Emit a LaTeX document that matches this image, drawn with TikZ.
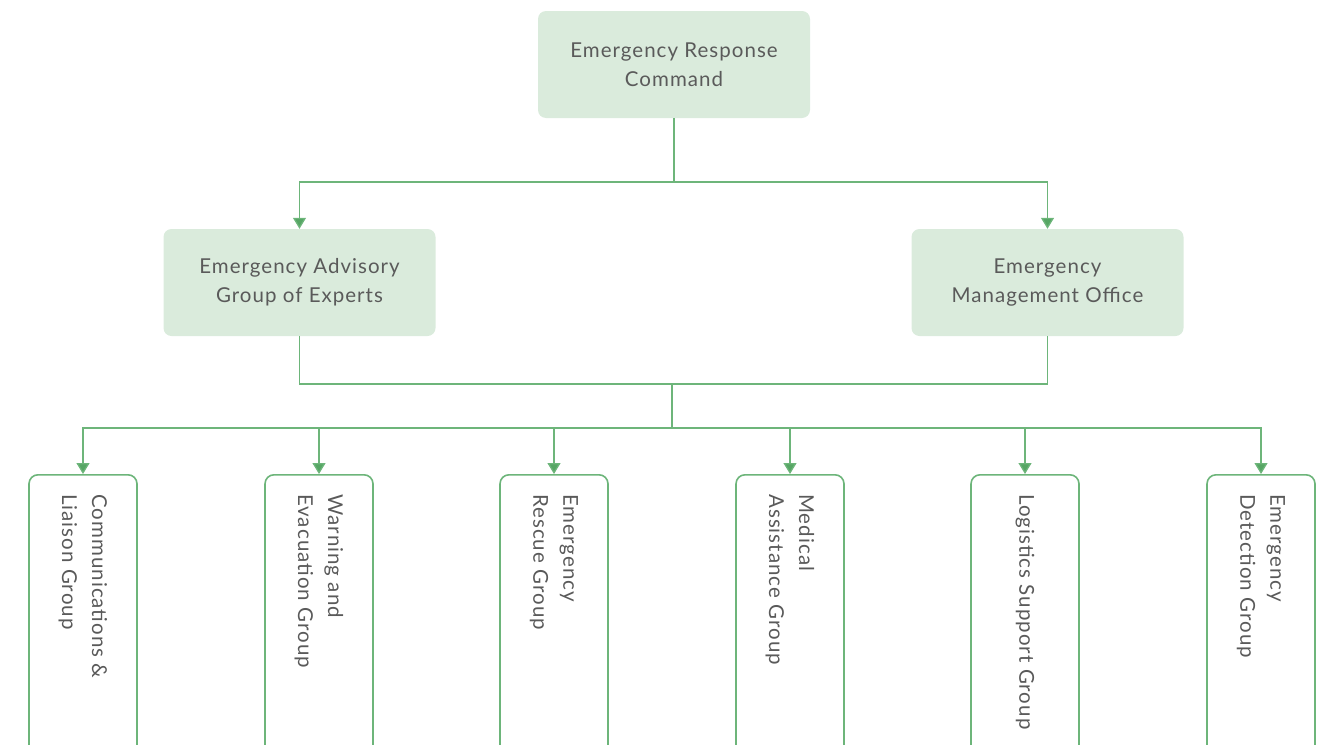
\documentclass[tikz,border=0pt]{standalone}
\usepackage{fontspec}
\setmainfont{Lato}[LetterSpace=5]
\usetikzlibrary{arrows.meta}
\definecolor{boxfill}{HTML}{DAEBDC}
\definecolor{linegreen}{HTML}{6DB57A}
\definecolor{tipgreen}{HTML}{56A664}
\definecolor{textgray}{HTML}{5A5A5A}
\tikzset{
  topbox/.style={fill=boxfill, draw=none, rounded corners=8pt, minimum width=272pt, minimum height=107pt, align=center, text=textgray, font=\fontsize{20.5}{29}\selectfont},
  groupbox/.style={fill=white, draw=linegreen, line width=1.6pt, rounded corners=9pt},
  grouplabel/.style={rotate=-90, anchor=west, align=left, text=textgray, font=\fontsize{20.5}{30}\selectfont, inner sep=0pt},
  link/.style={draw=linegreen, line width=1.3pt},
  arrowlink/.style={link, -{Triangle[length=11pt, width=13pt, fill=tipgreen]}},
}
\begin{document}
\begin{tikzpicture}[x=1pt, y=-1pt]
\useasboundingbox (0,0) rectangle (1329,744);

% command level
\node[topbox] (erc) at (674,64.5) {Emergency Response\\Command};

% second level
\node[topbox] (advisory) at (299.5,282.5) {Emergency Advisory\\Group of Experts};
\node[topbox] (office) at (1047.5,282.5) {Emergency\\Management Office};

% branch points
\coordinate (j1) at (674,182);
\coordinate (j2) at (672,384);
\coordinate (j3) at (672,428);

\draw[link] (erc.south) -- (j1);
\draw[arrowlink] (j1) -| (advisory.north);
\draw[arrowlink] (j1) -| (office.north);

\draw[link] (advisory.south) |- (j2);
\draw[link] (office.south) |- (j2);
\draw[link] (j2) -- (j3);

% working groups (boxes run past the lower edge)
\foreach \name/\cx/\txt in {
  comm/83/{Communications \&\\Liaison Group},
  warn/319/{Warning and\\Evacuation Group},
  rescue/554/{Emergency\\Rescue Group},
  medical/790/{Medical\\Assistance Group},
  logistics/1025/{Logistics Support Group},
  detection/1261/{Emergency\\Detection Group}} {
  \node[groupbox, minimum width=108pt, minimum height=300pt, anchor=north] (\name) at (\cx,474) {};
  \node[grouplabel] (\name-label) at (\cx,494) {\txt};
  \draw[arrowlink] (j3) -| (\name.north);
}
\end{tikzpicture}
\end{document}
